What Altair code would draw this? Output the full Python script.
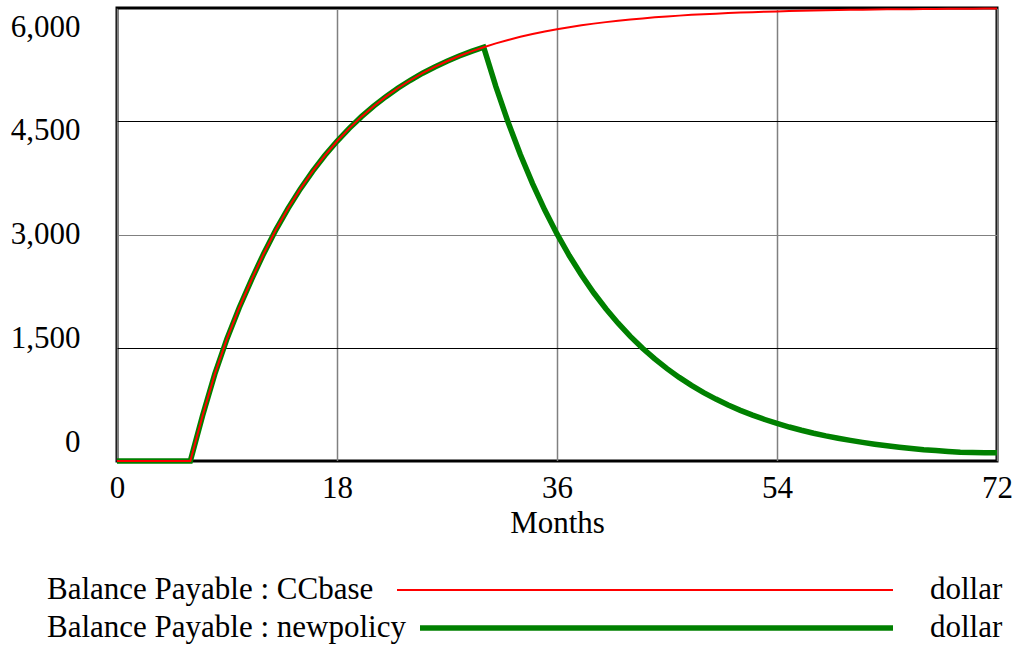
import altair as alt
import pandas as pd

# ---- data ----
months = list(range(73))
ccbase = [0, 0, 0, 0, 0, 0, 0,
          600, 1150, 1620, 2030, 2400, 2746, 3062, 3347, 3604, 3836,
          4046, 4235, 4406, 4561, 4700, 4826, 4940, 5043, 5136, 5219,
          5295, 5364, 5425, 5481, 5531, 5577, 5618, 5655, 5689, 5719,
          5746, 5771, 5793, 5813, 5831, 5848, 5862, 5876, 5888, 5899,
          5909, 5917, 5925, 5933, 5939, 5945, 5950, 5955, 5960, 5964,
          5967, 5970, 5973, 5976, 5978, 5980, 5982, 5984, 5985, 5987,
          5988, 5989, 5990, 5991, 5992, 5995]
newpolicy = ccbase[:31] + [
    4959, 4487, 4060, 3674, 3324, 3008, 2722, 2463, 2228, 2016,
    1825, 1651, 1494, 1352, 1223, 1107, 1001, 906, 820, 742,
    671, 607, 550, 497, 450, 407, 368, 333, 302, 273,
    247, 223, 202, 183, 166, 150, 138, 127, 117, 112,
    110, 108]

series_names = ["Balance Payable : CCbase", "Balance Payable : newpolicy"]
series_units = ["dollar", "dollar"]
series_colors = ["#ff0000", "#008000"]
series_widths = [2, 5.5]

x_ticks = [0, 18, 36, 54, 72]
y_ticks = [0, 1500, 3000, 4500, 6000]

df = pd.DataFrame({
    "Months": months * 2,
    "Value": ccbase + newpolicy,
    "Series": ["CCbase"] * len(months) + ["newpolicy"] * len(months),
})

FONT = "Liberation Serif"
FS = 31

x_enc = alt.X("Months:Q",
              scale=alt.Scale(domain=[0, 72], nice=False, zero=False),
              axis=alt.Axis(values=x_ticks, title="Months", grid=True,
                            gridColor="#808080", gridWidth=1.5,
                            domain=False, ticks=False, labelPadding=12,
                            labelFlush=False, labelOverlap=False,
                            labelFontSize=FS, labelFont=FONT, labelColor="black",
                            titleFontSize=FS, titleFont=FONT, titleColor="black",
                            titleFontWeight="normal", titlePadding=5))
y_enc = alt.Y("Value:Q",
              scale=alt.Scale(domain=[0, 6000], nice=False),
              axis=alt.Axis(values=y_ticks, title=None, grid=True,
                            gridColor={"condition": {"test": "datum.value === 3000", "value": "#808080"},
                                       "value": "black"},
                            gridWidth=1.2, format=",d",
                            domain=False, ticks=False, labelPadding=37,
                            labelOffset=alt.ExprRef(expr="(datum.value - 3000) / 3000 * 19"),
                            labelOverlap=False,
                            labelFontSize=FS, labelFont=FONT, labelColor="black"))

base = alt.Chart(df)
green = base.transform_filter(alt.datum.Series == "newpolicy").mark_line(
    color=series_colors[1], strokeWidth=series_widths[1]).encode(x=x_enc, y=y_enc)
red = base.transform_filter(alt.datum.Series == "CCbase").mark_line(
    color=series_colors[0], strokeWidth=series_widths[0]).encode(x="Months:Q", y="Value:Q")

# ---- custom legend below the plot ----
legend_layers = []
row_y = [582, 620]
line_x0 = [280, 303]
for i in range(2):
    ldf = pd.DataFrame({"name": [series_names[i]], "unit": [series_units[i]]})
    lc = alt.Chart(ldf)
    legend_layers.append(lc.mark_text(align="left", baseline="middle", font=FONT,
                                      fontSize=FS, color="black").encode(
        text="name:N", x=alt.value(-70), y=alt.value(row_y[i])))
    legend_layers.append(lc.mark_rule(color=series_colors[i], strokeWidth=series_widths[i]).encode(
        x=alt.value(line_x0[i]), x2=alt.value(776), y=alt.value(row_y[i])))
    legend_layers.append(lc.mark_text(align="left", baseline="middle", font=FONT,
                                      fontSize=FS, color="black").encode(
        text="unit:N", x=alt.value(813), y=alt.value(row_y[i])))

chart = alt.layer(green, red, *legend_layers).properties(
    width=880, height=453,
    autosize=alt.AutoSizeParams(type="none"),
    padding={"left": 117, "top": 8, "right": 26, "bottom": 186},
    background="white",
).configure_view(stroke="black", strokeWidth=3)

chart.save("out.html", embed_options={"renderer": "svg", "actions": False})
